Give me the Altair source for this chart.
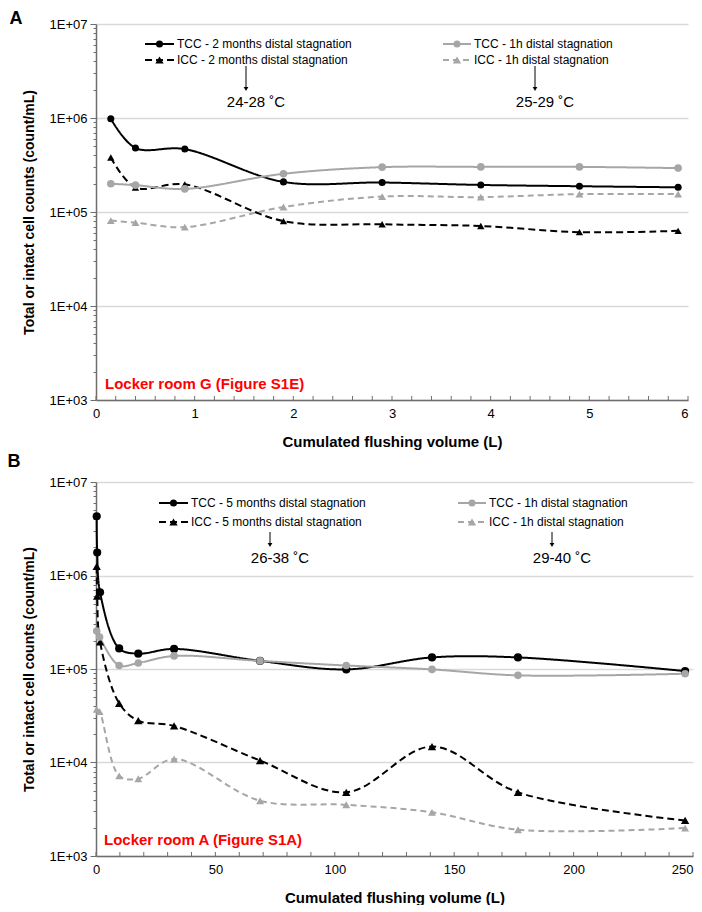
import altair as alt
import pandas as pd

FONT = "Liberation Sans"
BLACK = "#000000"
GREY = "#a6a6a6"
AXC = "#6e6e6e"

# ---------------- Panel A data ----------------
a_x = [0.15, 0.4, 0.9, 1.9, 2.9, 3.9, 4.9, 5.9]
a_tcc_2m = [9.8e5, 4.8e5, 4.67e5, 2.09e5, 2.06e5, 1.94e5, 1.88e5, 1.83e5]
a_icc_2m = [3.8e5, 1.82e5, 1.97e5, 8.0e4, 7.4e4, 7.1e4, 6.1e4, 6.3e4]
a_tcc_1h = [2.0e5, 1.93e5, 1.76e5, 2.55e5, 3.0e5, 3.02e5, 3.02e5, 2.93e5]
a_icc_1h = [8.1e4, 7.7e4, 6.9e4, 1.13e5, 1.46e5, 1.44e5, 1.55e5, 1.55e5]
a_names = ["TCC - 2 months distal stagnation", "ICC - 2 months distal stagnation",
           "TCC - 1h distal stagnation", "ICC - 1h distal stagnation"]
a_temps = ["24-28 ˚C", "25-29 ˚C"]
a_room = "Locker room G (Figure S1E)"

# ---------------- Panel B data ----------------
b_x_long = [0.3, 0.5, 1.7, 9.7, 17.7, 32.7, 68.7, 104.8, 140.7, 176.7, 246.7]
b_tcc_5m = [4.3e6, 1.76e6, 6.6e5, 1.66e5, 1.46e5, 1.64e5, 1.22e5, 9.9e4, 1.33e5, 1.33e5, 9.5e4]
b_icc_5m = [1.25e6, 6.0e5, 1.95e5, 4.3e4, 2.8e4, 2.46e4, 1.05e4, 4.8e3, 1.48e4, 4.8e3, 2.4e3]
b_x_1h = [0.3, 1.5, 9.7, 17.7, 32.7, 68.7, 104.8, 140.7, 176.7, 246.7]
b_tcc_1h = [2.55e5, 2.2e5, 1.09e5, 1.16e5, 1.38e5, 1.22e5, 1.09e5, 9.9e4, 8.55e4, 8.9e4]
b_icc_1h = [3.7e4, 3.5e4, 7.2e3, 6.7e3, 1.09e4, 3.9e3, 3.53e3, 2.93e3, 1.91e3, 1.99e3]
b_names = ["TCC - 5 months distal stagnation", "ICC - 5 months distal stagnation",
           "TCC - 1h distal stagnation", "ICC - 1h distal stagnation"]
b_temps = ["26-38 ˚C", "29-40 ˚C"]
b_room = "Locker room A (Figure S1A)"

y_ticks = [k * 10 ** d for d in range(3, 7) for k in range(1, 10)] + [1e7]
COLORS = [BLACK, BLACK, GREY, GREY]
DASHES = [[1, 0], [7, 4], [1, 0], [6, 4]]
SHAPES = ["circle", "triangle-up", "circle", "triangle-up"]
SIZES = [50, 70, 50, 70]

MAJ_Y = "abs(log(datum.value)/LN10 - round(log(datum.value)/LN10)) < 0.001"


def panel(letter, xs, ys, names, temps, room, xdom, xvals, xmaj, width, height,
          leg, arrows, letter_pos, room_pos):
    rows = []
    for xl, yl, n in zip(xs, ys, names):
        for xv, yv in zip(xl, yl):
            rows.append({"x": xv, "y": yv, "s": n})
    df = pd.DataFrame(rows)

    xaxis = alt.Axis(values=xvals, title="Cumulated flushing volume (L)",
                     labelExpr=f"abs(datum.value/{xmaj} - round(datum.value/{xmaj})) < 0.001 ? format(datum.value, 'd') : ''",
                     labelOverlap=False, labelFlush=False, grid=False,
                     labelAlign={"condition": {"test": f"datum.value >= {xdom[1]}", "value": "right"},
                                 "value": "center"},
                     tickSize=4, tickColor="transparent", labelPadding=3, titlePadding=14,
                     domainColor=AXC, domainWidth=1.5)
    yaxis = alt.Axis(values=y_ticks, title="Total or intact cell counts (count/mL)",
                     labelExpr=f"{MAJ_Y} ? '1E+0' + round(log(datum.value)/LN10) : ''",
                     labelOverlap=False, grid=True,
                     gridOpacity={"condition": {"test": MAJ_Y, "value": 1}, "value": 0},
                     tickSize={"condition": {"test": MAJ_Y, "value": 6}, "value": 3},
                     gridColor="#d9d9d9", gridWidth=1.5,
                     labelPadding=3, titlePadding=13,
                     domainColor=AXC, tickColor=AXC, domainWidth=1.5)
    xs_ = alt.Scale(domain=xdom, nice=False, zero=False)
    ys_ = alt.Scale(type="log", domain=[1e3, 1e7], nice=False)
    xenc = alt.X("x:Q", scale=xs_, axis=xaxis)

    base = alt.Chart(df).encode(
        x=xenc,
        y=alt.Y("y:Q", scale=ys_, axis=yaxis),
    )
    lines = base.mark_line(interpolate="catmull-rom", strokeWidth=2).encode(
        color=alt.Color("s:N", scale=alt.Scale(domain=names, range=COLORS), legend=None),
        strokeDash=alt.StrokeDash("s:N", scale=alt.Scale(domain=names, range=DASHES), legend=None),
    )
    pts = base.mark_point(filled=True, opacity=1).encode(
        color=alt.Color("s:N", scale=alt.Scale(domain=names, range=COLORS), legend=None),
        shape=alt.Shape("s:N", scale=alt.Scale(domain=names, range=SHAPES), legend=None),
        size=alt.Size("s:N", scale=alt.Scale(domain=names, range=SIZES), legend=None),
    )
    # inward x ticks (Excel style)
    ticks = alt.Chart(pd.DataFrame({"x": xvals})).mark_rule(color=AXC, strokeWidth=1).encode(
        x=xenc, y=alt.value(height - 4), y2=alt.value(height))
    layers = [lines, pts, ticks]
    one = pd.DataFrame({"k": [0]})
    # legend
    (lx1, lx2, rx1, rx2, r1, r2) = leg
    for i, n in enumerate(names):
        x1, x2 = (lx1, lx2) if i < 2 else (rx1, rx2)
        yy = r1 if i % 2 == 0 else r2
        layers.append(alt.Chart(one).mark_rule(color=COLORS[i], strokeWidth=2,
                                               strokeDash=DASHES[i]).encode(
            x=alt.value(x1), x2=alt.value(x2), y=alt.value(yy)))
        layers.append(alt.Chart(one).mark_point(filled=True, opacity=1, color=COLORS[i],
                                                shape=SHAPES[i], size=SIZES[i]).encode(
            x=alt.value((x1 + x2) / 2), y=alt.value(yy)))
        layers.append(alt.Chart(one).mark_text(text=n, align="left", baseline="middle",
                                               fontSize=12, font=FONT, color="#000").encode(
            x=alt.value(x2 + 3), y=alt.value(yy)))
    # temperature arrows
    for t, (ax, ay1, ay2, ty) in zip(temps, arrows):
        layers.append(alt.Chart(one).mark_rule(color="#000", strokeWidth=1).encode(
            x=alt.value(ax), y=alt.value(ay1), y2=alt.value(ay2 - 3)))
        layers.append(alt.Chart(one).mark_point(filled=True, opacity=1, color="#000",
                                                shape="triangle-down", size=22).encode(
            x=alt.value(ax), y=alt.value(ay2 - 2)))
        layers.append(alt.Chart(one).mark_text(text=t, align="center", baseline="middle",
                                               fontSize=15, font=FONT, color="#000").encode(
            x=alt.value(ax + 10), y=alt.value(ty)))
    # room label
    layers.append(alt.Chart(one).mark_text(text=room, align="left", baseline="middle",
                                           fontSize=15, fontWeight="bold", font=FONT,
                                           color="#ff0000").encode(
        x=alt.value(room_pos[0]), y=alt.value(room_pos[1])))
    # panel letter
    layers.append(alt.Chart(one).mark_text(text=letter, align="center", baseline="middle",
                                           fontSize=18, fontWeight="bold", font=FONT,
                                           color="#000").encode(
        x=alt.value(letter_pos[0]), y=alt.value(letter_pos[1])))
    return alt.layer(*layers).properties(width=width, height=height)


a_xvals = [round(i * 0.2, 1) for i in range(31)]
b_xvals = list(range(0, 251, 10))

chart_a = panel("A", [a_x, a_x, a_x, a_x], [a_tcc_2m, a_icc_2m, a_tcc_1h, a_icc_1h],
                a_names, a_temps, a_room, [0, 6], a_xvals, 1, 592, 376,
                (49, 78, 347, 375, 20, 36),
                [(150, 42, 67, 78), (439, 42, 67, 78)],
                (-80, -5), (9, 360))
chart_b = panel("B", [b_x_long, b_x_long, b_x_1h, b_x_1h], [b_tcc_5m, b_icc_5m, b_tcc_1h, b_icc_1h],
                b_names, b_temps, b_room, [0, 250], b_xvals, 50, 597, 374,
                (63, 92, 362, 390, 21, 40),
                [(174, 50, 65, 76), (456, 50, 65, 76)],
                (-82, -20), (8, 358))

chart = alt.vconcat(chart_a, chart_b, spacing=4).properties(
    padding={"left": -1, "top": 2, "right": 0, "bottom": 0}
).configure_view(stroke=None).configure_axis(
    labelFont=FONT, titleFont=FONT, labelFontSize=13, labelColor="#000",
    titleColor="#000", titleFontWeight="bold"
).configure_axisX(titleFontSize=15).configure_axisY(titleFontSize=14)

chart.save("out.html", embed_options={"renderer": "svg", "actions": False})
